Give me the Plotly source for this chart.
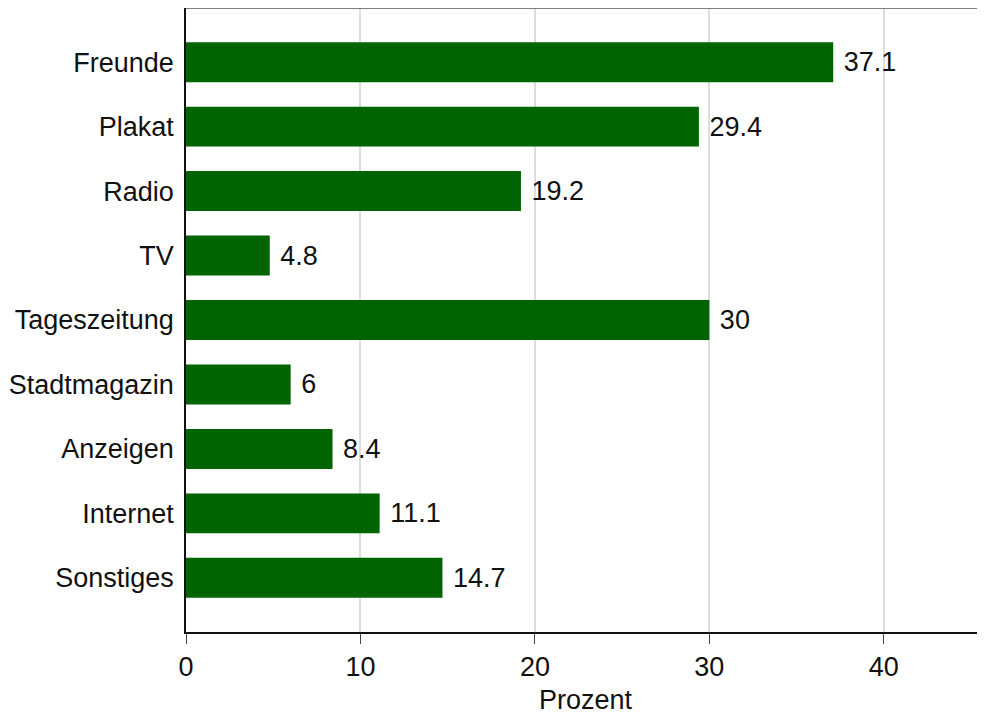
import plotly.graph_objects as go

categories = ["Freunde", "Plakat", "Radio", "TV", "Tageszeitung", "Stadtmagazin", "Anzeigen", "Internet", "Sonstiges"]
values = [37.1, 29.4, 19.2, 4.8, 30, 6, 8.4, 11.1, 14.7]
labels = ["37.1", "29.4", "19.2", "4.8", "30", "6", "8.4", "11.1", "14.7"]
xticks = [0, 10, 20, 30, 40]

font = "Liberation Sans, Arial, sans-serif"
fs = 27

fig = go.Figure(go.Bar(
    x=values, y=categories, orientation="h",
    marker=dict(color="#006400", line=dict(width=0)),
    width=0.62,
    text=[" " + t for t in labels], textposition="outside", cliponaxis=False,
    textfont=dict(family=font, size=fs, color="#111"),
))

fig.update_layout(
    width=977, height=707,
    margin=dict(l=178, r=0, t=0, b=83),
    plot_bgcolor="white", paper_bgcolor="white",
    font=dict(family=font, size=fs, color="#111"),
    showlegend=False,
    xaxis=dict(
        range=[0, 45.8], tickvals=xticks, ticks="outside", ticklen=10, tickwidth=1,
        tickcolor="#444", showline=True, linecolor="#111", linewidth=1.5,
        showgrid=True, gridcolor="#dddddd", gridwidth=2, zeroline=False,
        title=dict(text="Prozent", standoff=11, font=dict(size=fs)),
        tickfont=dict(size=fs),
    ),
    yaxis=dict(
        autorange=False, range=[8.84, -0.84], categoryorder="array", categoryarray=categories,
        showline=True, linecolor="#111", linewidth=1.5, ticks="", showgrid=False,
        zeroline=False, ticklabelstandoff=5, tickfont=dict(size=fs),
    ),
    shapes=[dict(type="line", xref="paper", yref="paper", x0=0, x1=1, y0=1, y1=1,
                 line=dict(color="#555", width=1.5))],
)

fig.write_html("out.html")
